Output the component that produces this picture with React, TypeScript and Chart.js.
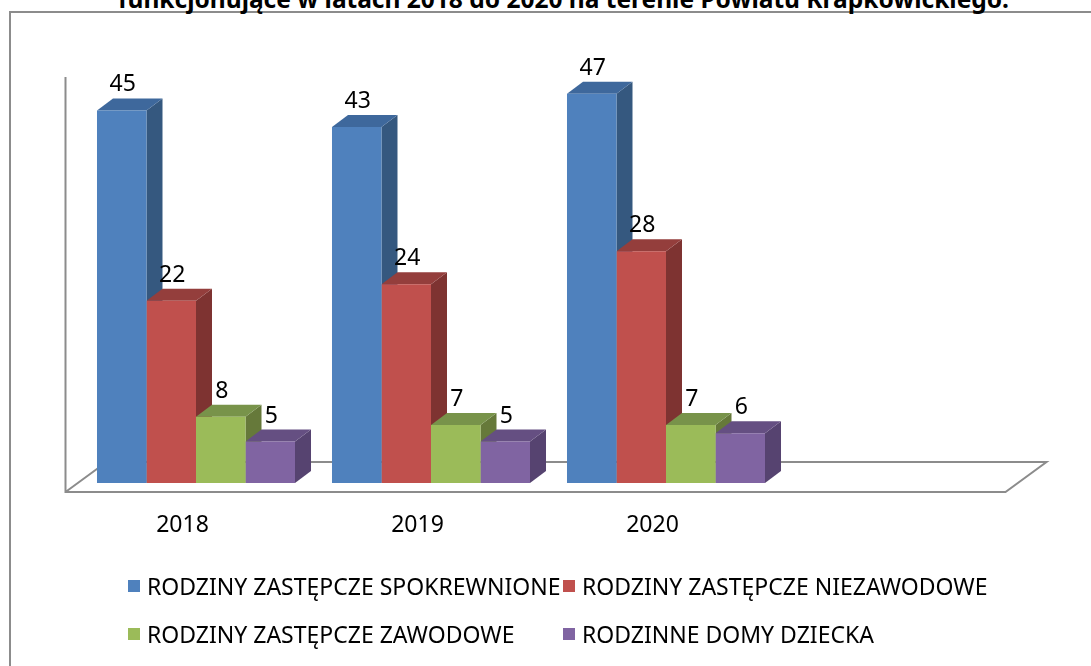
import React, { useEffect, useRef } from "react";
import { Chart, registerables } from "chart.js";

Chart.register(...registerables);

const categories = ["2018", "2019", "2020", ""];
const seriesNames = [
  "RODZINY ZASTĘPCZE SPOKREWNIONE",
  "RODZINY ZASTĘPCZE NIEZAWODOWE",
  "RODZINY ZASTĘPCZE ZAWODOWE",
  "RODZINNE DOMY DZIECKA",
];
const spokrewnione = [45, 43, 47, null];
const niezawodowe = [22, 24, 28, null];
const zawodowe = [8, 7, 7, null];
const domyDziecka = [5, 5, 6, null];

const frontColors = ["#4F81BD", "#C0504D", "#9BBB59", "#8064A2"];
const topColors = ["#3E689C", "#943E3C", "#78934A", "#654F82"];
const sideColors = ["#35587F", "#7E3331", "#66793A", "#564370"];

const titleText = "funkcjonujące w latach 2018 do 2020 na terenie Powiatu Krapkowickiego.";
const FONT = "'Noto Sans', 'Open Sans', sans-serif";

const DX = 16;
const DY = 12;

const threeD = {
  id: "threeD",
  beforeDatasetsDraw(chart: any) {
    const { ctx, chartArea } = chart;
    const y = chart.scales.y;
    const x = chart.scales.x;
    ctx.save();
    const fl = chartArea.left - 13;
    const fr = fl + (x.right - x.left);
    const fy = chartArea.bottom + 9;
    const by = chartArea.bottom - 21;
    ctx.strokeStyle = "#8C8C8C";
    ctx.lineWidth = 2;
    ctx.beginPath();
    ctx.moveTo(fl, y.getPixelForValue(50) + 8);
    ctx.lineTo(fl, fy);
    ctx.lineTo(fr, fy);
    ctx.lineTo(fr + 41, by);
    ctx.lineTo(fl + 41, by);
    ctx.lineTo(fl, fy);
    ctx.stroke();
    const nCat = categories.length;
    for (let c = 0; c < nCat; c++) {
      chart.data.datasets.forEach((ds: any, di: number) => {
        const meta = chart.getDatasetMeta(di);
        const el = meta.data[c];
        if (!el || ds.data[c] == null) return;
        const p = el.getProps(["x", "y", "base", "width"], true);
        const l = p.x - p.width / 2;
        const r = p.x + p.width / 2;
        const t = p.y;
        const b = p.base;
        ctx.fillStyle = sideColors[di];
        ctx.beginPath();
        ctx.moveTo(r, b);
        ctx.lineTo(r, t);
        ctx.lineTo(r + DX, t - DY);
        ctx.lineTo(r + DX, b - DY);
        ctx.closePath();
        ctx.fill();
        ctx.fillStyle = topColors[di];
        ctx.beginPath();
        ctx.moveTo(l, t);
        ctx.lineTo(r, t);
        ctx.lineTo(r + DX, t - DY);
        ctx.lineTo(l + DX, t - DY);
        ctx.closePath();
        ctx.fill();
      });
    }
    ctx.restore();
  },
  afterDatasetsDraw(chart: any) {
    const { ctx, chartArea } = chart;
    const x = chart.scales.x;
    ctx.save();
    ctx.fillStyle = "#000";
    ctx.font = `23px ${FONT}`;
    ctx.textAlign = "center";
    ctx.textBaseline = "alphabetic";
    chart.data.datasets.forEach((ds: any, di: number) => {
      const meta = chart.getDatasetMeta(di);
      meta.data.forEach((el: any, i: number) => {
        const v = ds.data[i];
        if (v == null) return;
        const p = el.getProps(["x", "y"], true);
        ctx.fillText(String(v), p.x + 1, p.y - 19);
      });
    });
    ctx.textBaseline = "middle";
    categories.forEach((c, i) => {
      if (!c) return;
      ctx.fillText(c, x.getPixelForValue(i) - 13.5, chartArea.bottom + 42);
    });
    ctx.restore();
  },
};

export default function App() {
  const ref = useRef<HTMLCanvasElement>(null);
  useEffect(() => {
    if (!ref.current) return;
    const chart = new Chart(ref.current, {
      type: "bar",
      data: {
        labels: categories,
        datasets: [spokrewnione, niezawodowe, zawodowe, domyDziecka].map((d, i) => ({
          label: seriesNames[i],
          data: d,
          backgroundColor: frontColors[i],
          borderWidth: 0,
          categoryPercentage: 0.8426,
          barPercentage: 1,
        })),
      },
      options: {
        animation: false,
        responsive: true,
        maintainAspectRatio: false,
        layout: { padding: { top: 69, bottom: 183, left: 78.5, right: 72.5 } },
        plugins: { legend: { display: false }, tooltip: { enabled: false }, title: { display: false } },
        scales: {
          x: { display: false },
          y: { display: false, min: 0, max: 50 },
        },
      },
      plugins: [threeD],
    });
    return () => chart.destroy();
  }, []);

  const legendItem = (i: number, left: number, top: number) => (
    <div key={i} style={{ position: "absolute", left, top, display: "flex", alignItems: "center", whiteSpace: "nowrap" }}>
      <div style={{ width: 12, height: 12, background: frontColors[i], marginRight: 7 }} />
      <span style={{ fontFamily: FONT, fontSize: 23, color: "#000", lineHeight: "24px" }}>{seriesNames[i]}</span>
    </div>
  );

  return (
    <div style={{ position: "absolute", left: 0, top: 0, width: 1091, height: 666, overflow: "hidden", background: "#fff" }}>
      <div
        style={{
          position: "absolute",
          left: 9,
          top: 11,
          width: 1200,
          height: 800,
          border: "2px solid #8C8C8C",
          boxSizing: "border-box",
        }}
      />
      <div
        style={{
          position: "absolute",
          left: 118,
          top: -15.5,
          fontFamily: FONT,
          fontWeight: "bold",
          fontSize: 24.5,
          lineHeight: "28px",
          whiteSpace: "nowrap",
          color: "#000",
        }}
      >
        {titleText}
      </div>
      <div style={{ position: "absolute", left: 0, top: 0, width: 1091, height: 666 }}>
        <canvas ref={ref} />
      </div>
      {legendItem(0, 128, 574)}
      {legendItem(1, 563, 574)}
      {legendItem(2, 128, 622)}
      {legendItem(3, 563, 622)}
    </div>
  );
}
